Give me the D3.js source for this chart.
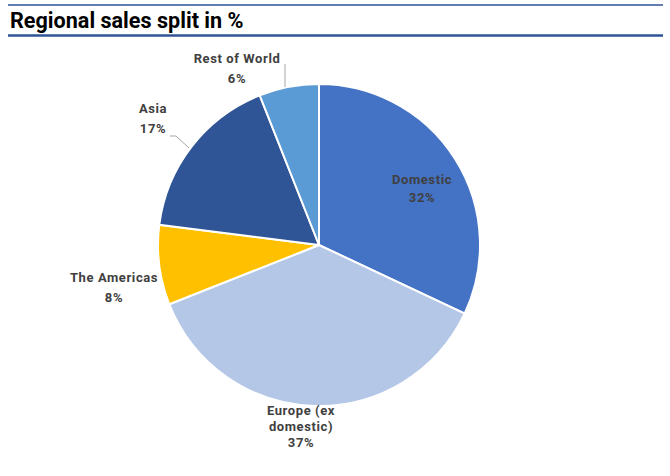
<!DOCTYPE html>
<html>
<head>
<meta charset="utf-8">
<script src="https://cdn.jsdelivr.net/npm/d3@7"></script>
<style>
  body { margin: 0; background: #fff; }
  svg { display: block; }
</style>
</head>
<body>
<div id="chart"></div>
<script>
// Regional sales split pie

const regions = ["Domestic", "Europe (ex domestic)", "The Americas", "Asia", "Rest of World"];
const shares = [32, 37, 8, 17, 6];
const sliceColors = ["#4472c4", "#b4c7e7", "#ffc000", "#2f5597", "#5b9bd5"];

const width = 670, height = 476;
const cx = 319, cy = 245, radius = 161;

const svg = d3.select("#chart")
    .append("svg")
    .attr("width", width)
    .attr("height", height);

// header rules + title
svg.append("line")
    .attr("x1", 8).attr("x2", 663)
    .attr("y1", 5).attr("y2", 5)
    .attr("stroke", "#2f5597")
    .attr("stroke-width", 1.5);

svg.append("text")
    .attr("x", 10)
    .attr("y", 28)
    .style("font-family", "Roboto, sans-serif")
    .style("font-weight", "bold")
    .style("font-size", "21.6px")
    .style("fill", "#000")
    .text("Regional sales split in %");

svg.append("line")
    .attr("x1", 8).attr("x2", 663)
    .attr("y1", 35.5).attr("y2", 35.5)
    .attr("stroke", "#2f5597")
    .attr("stroke-width", 2.5);

const pie = d3.pie().sort(null).value(d => d.value);
const arcs = pie(regions.map((r, i) => ({ name: r, value: shares[i], color: sliceColors[i] })));

const arc = d3.arc().innerRadius(0).outerRadius(radius);

const g = svg.append("g").attr("transform", `translate(${cx},${cy})`);

g.selectAll("path")
    .data(arcs)
    .join("path")
    .attr("d", arc)
    .attr("fill", d => d.data.color)
    .attr("stroke", "#fff")
    .attr("stroke-width", 2);

// label placement (relative to pie centre), Excel-style
const labelPos = {
    "Domestic": { x: 103, y: -61, gap: 18, lines: ["Domestic"] },
    "Europe (ex domestic)": { x: -18, y: 170, gap: 16, lines: ["Europe (ex", "domestic)"] },
    "The Americas": { x: -205, y: 37, gap: 20, lines: ["The Americas"] },
    "Asia": { x: -166, y: -132, gap: 20, lines: ["Asia"] },
    "Rest of World": { x: -82, y: -182, gap: 20, lines: ["Rest of World"] }
};

const labels = g.selectAll("text.lbl")
    .data(arcs)
    .join("text")
    .attr("class", "lbl")
    .attr("text-anchor", "middle")
    .style("font-family", "Roboto, sans-serif")
    .style("font-weight", "bold")
    .style("font-size", "13px")
    .style("letter-spacing", "0.6px")
    .style("fill", "#404040");

labels.each(function(d) {
    const p = labelPos[d.data.name];
    const t = d3.select(this);
    const lines = p.lines.concat([d3.format(".0f")(d.data.value) + "%"]);
    lines.forEach((ln, i) => {
        t.append("tspan")
            .attr("x", p.x)
            .attr("y", p.y + i * p.gap)
            .text(ln);
    });
});

// leader lines for the small outer labels
const leaders = [
    [[-34, -181], [-34, -158]],
    [[-149, -109], [-143, -109], [-130, -97]]
];
g.selectAll("path.leader")
    .data(leaders)
    .join("path")
    .attr("class", "leader")
    .attr("d", d => d3.line()(d))
    .attr("fill", "none")
    .attr("stroke", "#a6a6a6")
    .attr("stroke-width", 1);
</script>
</body>
</html>
